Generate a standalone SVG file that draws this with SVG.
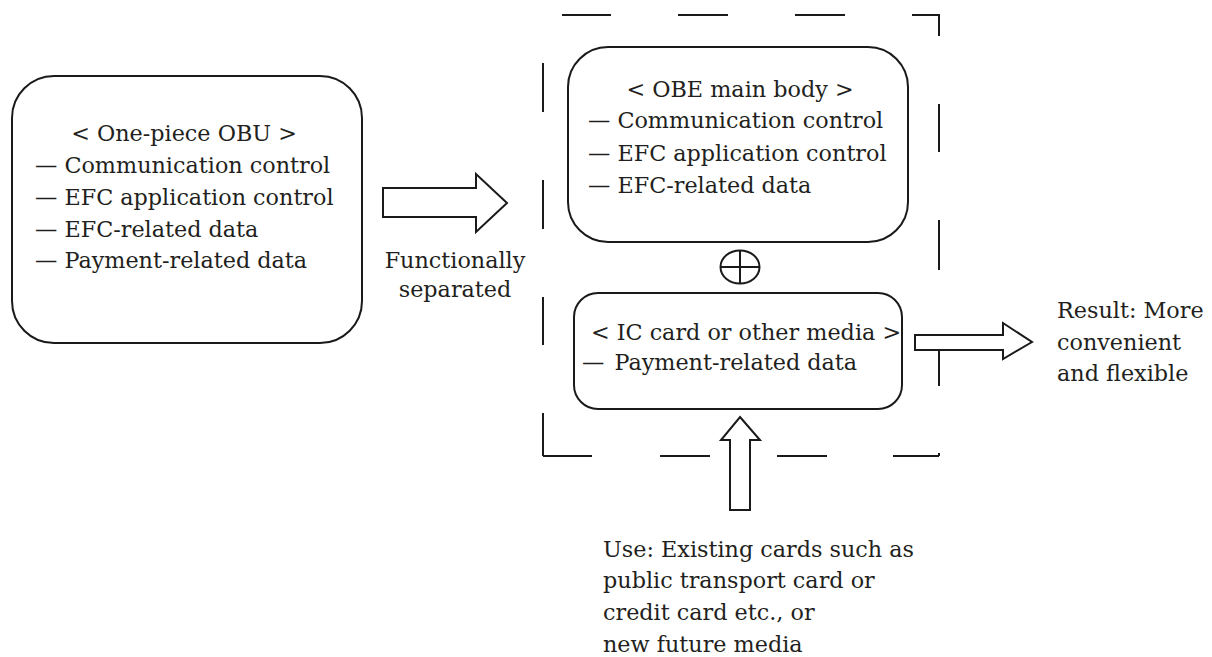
<svg xmlns="http://www.w3.org/2000/svg" width="1212" height="657" viewBox="0 0 1212 657">
<style>
.box{fill:#fff;stroke:#1a1a1a;stroke-width:2}
.arrow{fill:#fff;stroke:#1a1a1a;stroke-width:2;stroke-linejoin:miter}
.dash{stroke:#1a1a1a;stroke-width:2;fill:none}
text{font-family:"DejaVu Serif","Liberation Serif",serif;font-size:22.3px;fill:#231f20}
.c{text-anchor:middle}
</style>
<rect width="1212" height="657" fill="#fff"/>
<g id="boundary" class="dash">
<path d="M562 15H611M678 15H728M795 15H845M912 15H939V36"/>
<path d="M939 104V152M939 220V270M939 337V386M939 453V456"/>
<path d="M543 456H592M660 456H710M777 456H827M893 456H939"/>
<path d="M543 63V112M543 180V229M543 297V345M543 413V456"/>
</g>
<g id="one-piece-obu">
<rect class="box" x="12" y="76" width="350" height="267" rx="42"/>
<text class="c" x="184" y="141">&lt; One-piece OBU &gt;</text>
<text x="35" y="173">— Communication control</text>
<text x="35" y="205">— EFC application control</text>
<text x="35" y="237">— EFC-related data</text>
<text x="35" y="268">— Payment-related data</text>
</g>
<g id="obe-main-body">
<rect class="box" x="568" y="47" width="340" height="195" rx="40"/>
<text class="c" x="740" y="97">&lt; OBE main body &gt;</text>
<text x="588" y="128">— Communication control</text>
<text x="588" y="161">— EFC application control</text>
<text x="588" y="193">— EFC-related data</text>
</g>
<g id="plus">
<ellipse class="box" cx="740" cy="267" rx="19.5" ry="16.5"/>
<path class="dash" d="M740 250.5V283.5M720.5 267H759.5"/>
</g>
<g id="ic-card">
<rect class="box" x="574" y="293" width="328" height="116" rx="24"/>
<text class="c" x="746" y="340">&lt; IC card or other media &gt;</text>
<text x="582" y="370">— <tspan dx="3">Payment-related data</tspan></text>
</g>
<g id="connectors">
<polygon class="arrow" points="383,188 476,188 476,174 507,203 476,232 476,217 383,217"/>
<polygon class="arrow" points="915,335 1003,335 1003,323 1032,342 1003,359 1003,350 915,350"/>
<polygon class="arrow" points="740,417 760,440 750,440 750,510 730,510 730,440 721,440"/>
</g>
<g id="labels">
<text class="c" x="455" y="268">Functionally</text>
<text class="c" x="455" y="297">separated</text>
<text x="1057" y="318">Result: More</text>
<text x="1057" y="350">convenient</text>
<text x="1057" y="381">and flexible</text>
<text x="603" y="557">Use: Existing cards such as</text>
<text x="603" y="588">public transport card or</text>
<text x="603" y="620">credit card etc., or</text>
<text x="603" y="652">new future media</text>
</g>
</svg>
